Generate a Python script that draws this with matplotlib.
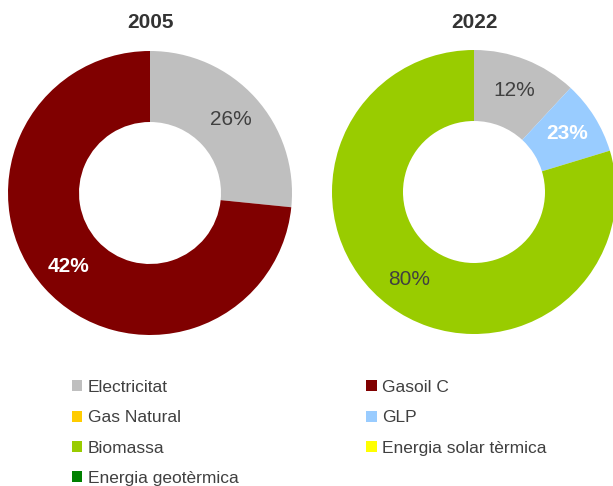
import matplotlib
matplotlib.use("Agg")
import matplotlib.pyplot as plt
from matplotlib.patches import Patch
import numpy as np

plt.rcParams['font.family'] = ['Liberation Sans', 'DejaVu Sans']

years = ["2005", "2022"]
cats_2005 = ["Electricitat", "Gasoil C"]
vals_2005 = [26.6, 73.4]
labels_2005 = ["26%", "42%"]
cats_2022 = ["Electricitat", "GLP", "Biomassa"]
vals_2022 = [11.9, 8.4, 79.7]
labels_2022 = ["12%", "23%", "80%"]

legend_cats = ["Electricitat", "Gasoil C", "Gas Natural", "GLP", "Biomassa",
               "Energia solar tèrmica", "Energia geotèrmica"]
colors = {
    "Electricitat": "#BFBFBF",
    "Gasoil C": "#800000",
    "Gas Natural": "#FFCC00",
    "GLP": "#99CCFF",
    "Biomassa": "#99CC00",
    "Energia solar tèrmica": "#FFFF00",
    "Energia geotèrmica": "#008000",
}
label_style = {
    "Electricitat": ("#404040", "normal"),
    "Gasoil C": ("white", "bold"),
    "GLP": ("white", "bold"),
    "Biomassa": ("#404040", "normal"),
}

W, H = 613, 486
fig = plt.figure(figsize=(W / 100, H / 100), dpi=100)

R = 142
centers = [(150, 193), (474, 192)]
data = [(cats_2005, vals_2005, labels_2005), (cats_2022, vals_2022, labels_2022)]

for (cx, cy), year, (cats, vals, labs) in zip(centers, years, data):
    ax = fig.add_axes([(cx - R) / W, (H - cy - R) / H, 2 * R / W, 2 * R / H])
    wedges, _ = ax.pie(vals, colors=[colors[c] for c in cats], startangle=90,
                       counterclock=False, radius=1,
                       wedgeprops=dict(width=0.5, linewidth=0))
    for w, c, lab in zip(wedges, cats, labs):
        th = np.deg2rad((w.theta1 + w.theta2) / 2)
        r = 0.77
        col, fw = label_style[c]
        ax.text(r * np.cos(th), r * np.sin(th), lab, ha="center", va="center",
                fontsize=15, color=col, fontweight=fw)
    ax.set_xlim(-1, 1)
    ax.set_ylim(-1, 1)
    ax.set_aspect("equal")
    ax.axis("off")
    fig.text(cx / W, 1 - 23 / H, year, ha="center", va="center",
             fontsize=15, fontweight="bold", color="#333333")

order = ["Electricitat", "Gas Natural", "Biomassa", "Energia geotèrmica",
         "Gasoil C", "GLP", "Energia solar tèrmica"]
handles = [Patch(facecolor=colors[c], edgecolor="none", label=c) for c in order]
fig.legend(handles=handles, loc="upper left", bbox_to_anchor=(72 / W, 1 - 380 / H),
           ncol=2, frameon=False, fontsize=12.5, handlelength=0.6, handleheight=0.6,
           handletextpad=0.3, columnspacing=7.37, labelspacing=0.88,
           labelcolor="#404040", borderaxespad=0, borderpad=0)

fig.savefig("out.png", dpi=100)
